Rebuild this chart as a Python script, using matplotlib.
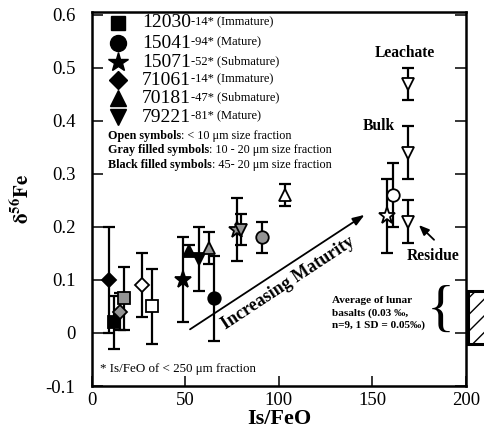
import matplotlib
matplotlib.use('Agg')
import matplotlib.pyplot as plt
from matplotlib.patches import Rectangle

plt.rcParams['font.family'] = 'Liberation Serif'
plt.rcParams['mathtext.fontset'] = 'stix'

# one entry per measurement: sample, size fraction, Is/FeO, d56Fe, error
sample = ['71061', '12030', '71061', '12030', '71061', '12030', '15071', '70181',
          '79221', '70181', '15041', '15071', '79221', '15041', '70181', '15071',
          '15041', '79221', '79221', '79221']
fraction = ['black', 'black', 'gray', 'gray', 'open', 'open', 'black', 'black',
            'black', 'gray', 'black', 'gray', 'gray', 'gray', 'open', 'open',
            'open', 'open', 'open', 'open']
isfeo = [9, 12, 15, 17, 27, 32, 48.5, 52, 57, 62.5, 65.5, 77.5, 79.5, 91, 103,
         158, 161, 169, 169, 169]
d56fe = [0.10, 0.02, 0.04, 0.065, 0.09, 0.05, 0.10, 0.155, 0.14, 0.16, 0.065,
         0.195, 0.195, 0.18, 0.26, 0.22, 0.26, 0.21, 0.34, 0.47]
err = [0.10, 0.05, 0.035, 0.06, 0.06, 0.07, 0.08, 0.01, 0.06, 0.03, 0.08,
       0.06, 0.03, 0.03, 0.02, 0.07, 0.06, 0.04, 0.05, 0.03]

# legend
legend_ids = ['12030', '15041', '15071', '71061', '70181', '79221']
legend_notes = ['-14* (Immature)', '-94* (Mature)', '-52* (Submature)',
                '-14* (Immature)', '-47* (Submature)', '-81* (Mature)']
fraction_bold = ['Open symbols', 'Gray filled symbols', 'Black filled symbols']
fraction_rest = [': < 10 \u03bcm size fraction', ': 10 - 20 \u03bcm size fraction',
                 ': 45- 20 \u03bcm size fraction']

# lunar basalt average
basalt_mean = 0.03
basalt_sd = 0.05

xticks = [0, 50, 100, 150, 200]
xticklabels = ['0', '50', '100', '150', '200']
yticks = [-0.1, 0, 0.1, 0.2, 0.3, 0.4, 0.5, 0.6]
yticklabels = ['-0.1', '0', '0.1', '0.2', '0.3', '0.4', '0.5', '0.6']

marker_of = {'12030': 's', '15041': 'o', '15071': '*', '71061': 'D', '70181': '^', '79221': 'v'}
size_of = {'s': 8, 'o': 9, '*': 12.5, 'D': 7.5, '^': 9, 'v': 9}
leg_size = {'s': 10, 'o': 11.5, '*': 15, 'D': 9.5, '^': 11, 'v': 11}
face_of = {'open': 'white', 'gray': '0.58', 'black': 'black'}

fig = plt.figure(figsize=(4.84, 4.30), dpi=100)
ax = fig.add_axes([0.190, 0.1023, 0.7727, 0.8697])

# error bars under the symbols
ax.errorbar(isfeo, d56fe, yerr=err, fmt='none', ecolor='black', elinewidth=1.6,
            capsize=4.5, capthick=1.6, zorder=2)
for s, f, x, y in zip(sample, fraction, isfeo, d56fe):
    m = marker_of[s]
    ax.plot(x, y, marker=m, ms=size_of[m], mfc=face_of[f], mec='black', mew=1.3,
            ls='none', zorder=3)

ax.set_xlim(0, 200)
ax.set_ylim(-0.1, 0.605)
ax.set_xticks(xticks)
ax.set_xticklabels(xticklabels)
ax.set_yticks(yticks)
ax.set_yticklabels(yticklabels)
ax.tick_params(axis='y', direction='in', length=8, width=1.1, right=True, pad=12, labelsize=13.5)
ax.tick_params(axis='x', direction='in', length=7, width=1.1, pad=4, labelsize=13.5)
for sp in ax.spines.values():
    sp.set_linewidth(1.8)

ax.set_xlabel('Is/FeO', fontsize=16, fontweight='bold', labelpad=0)
ax.set_ylabel(r'$\mathbf{\delta^{56}Fe}$', fontsize=15, labelpad=8)

# legend, drawn by hand
rows_y = [0.971, 0.917, 0.866, 0.818, 0.770, 0.719]
for sid, note, yy in zip(legend_ids, legend_notes, rows_y):
    m = marker_of[sid]
    ax.plot(0.0695, yy, marker=m, ms=leg_size[m], color='black', transform=ax.transAxes,
            clip_on=False)
    t = ax.text(0.134, yy, sid, transform=ax.transAxes, fontsize=14, va='center')
    ax.annotate(note, xy=(1, 0.18), xycoords=t, fontsize=9, va='bottom')

for b, r, yy in zip(fraction_bold, fraction_rest, [0.668, 0.630, 0.591]):
    t = ax.text(0.043, yy, b, transform=ax.transAxes, fontsize=8.7, fontweight='bold', va='center')
    ax.annotate(r, xy=(1, 0), xycoords=t, fontsize=8.7, va='bottom')

ax.text(4.2, -0.068, '* Is/FeO of < 250 \u03bcm fraction', fontsize=9.4, va='center')

# annotations
ax.text(167.4, 0.528, 'Leachate', fontsize=11.2, fontweight='bold', ha='center', va='center')
ax.text(153.4, 0.391, 'Bulk', fontsize=11.2, fontweight='bold', ha='center', va='center')
ax.text(182.2, 0.145, 'Residue', fontsize=11.2, fontweight='bold', ha='center', va='center')
ax.annotate('', xy=(173.8, 0.207), xytext=(184, 0.172),
            arrowprops=dict(arrowstyle='-|>,head_length=0.6,head_width=0.25', color='black', lw=1.3))
ax.annotate('', xy=(147, 0.2255), xytext=(51.2, 0.004),
            arrowprops=dict(arrowstyle='-|>,head_length=0.7,head_width=0.25', color='black', lw=1.3))
ax.text(105, 0.094, 'Increasing Maturity', fontsize=13, fontweight='bold',
        rotation=33.4, rotation_mode='anchor', ha='center', va='center')

ax.text(128.3, 0.0376, 'Average of lunar\nbasalts (0.03 \u2030,\nn=9, 1 SD = 0.05\u2030)',
        fontsize=8.1, fontweight='bold', va='center', ha='left', linespacing=1.4)
ax.text(186.5, 0.040, '{', fontsize=42, ha='center', va='center', fontweight='light')
ax.add_patch(Rectangle((201, basalt_mean - basalt_sd), 20, 2 * basalt_sd, facecolor='white',
                       edgecolor='black', hatch='//', lw=2.2, clip_on=False))

fig.savefig('out.png', dpi=100)
